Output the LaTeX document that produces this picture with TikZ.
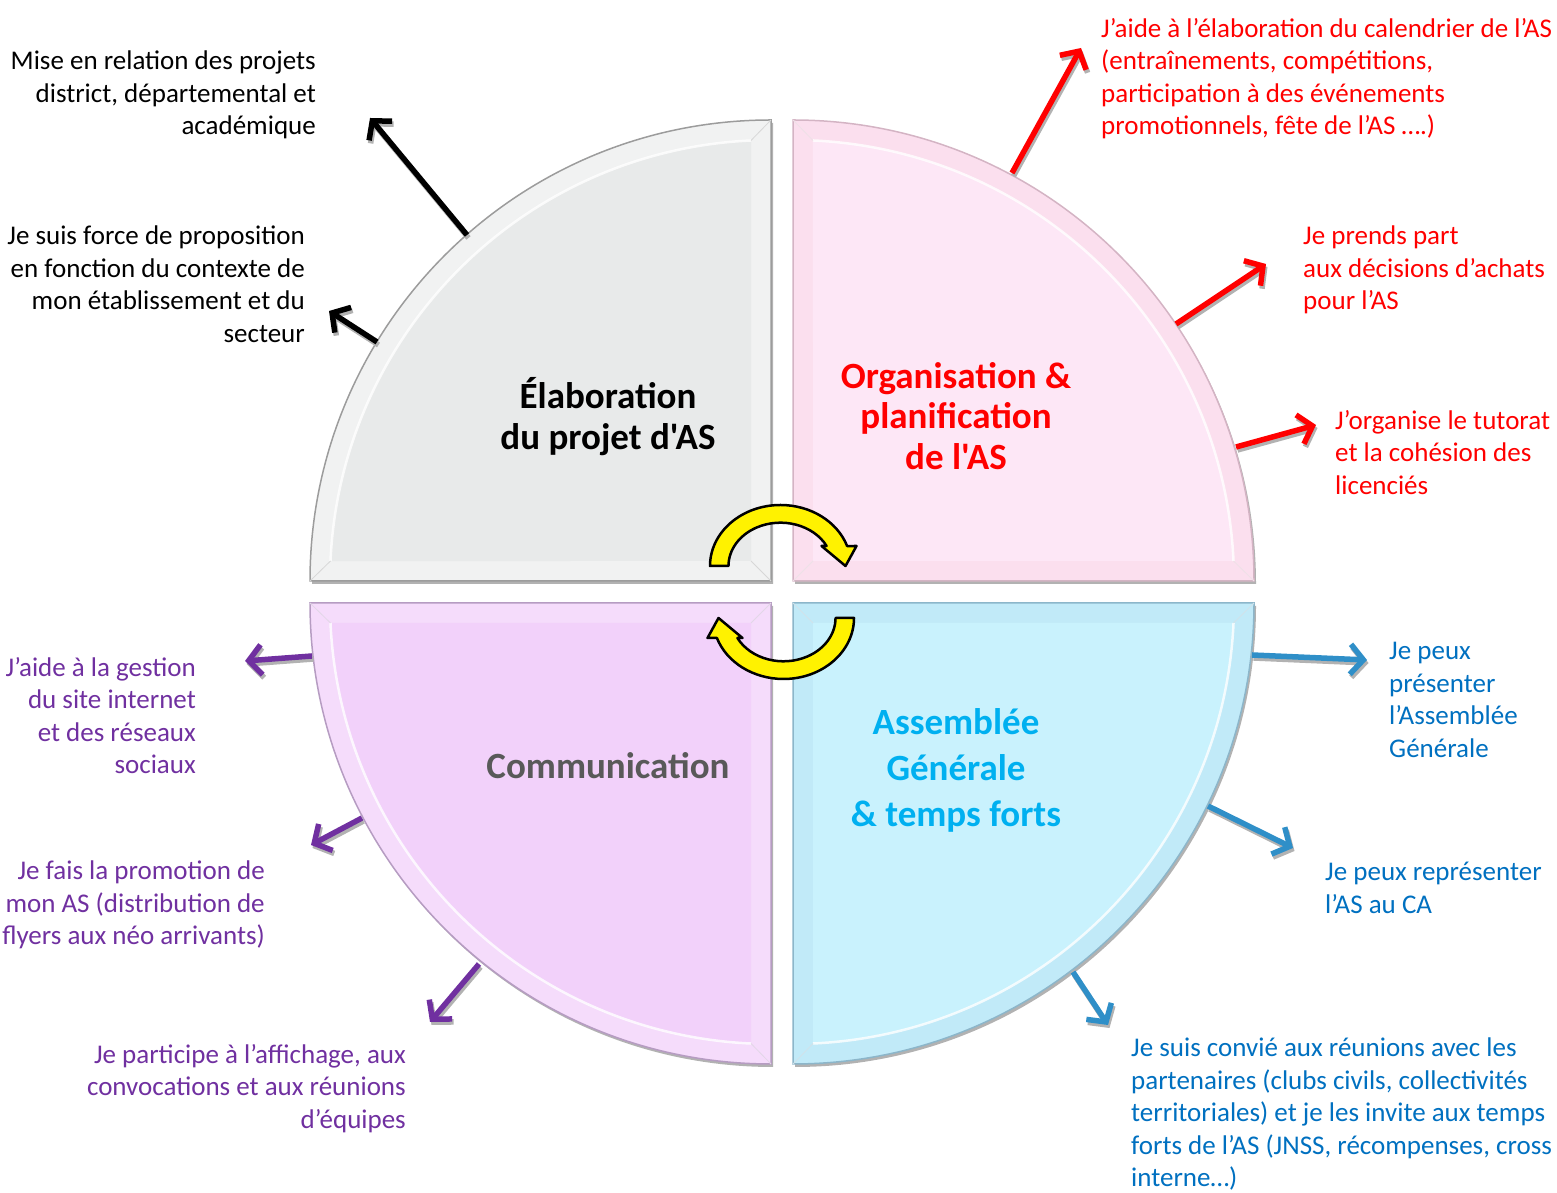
\documentclass[tikz,border=0pt]{standalone}
\usepackage{fontspec}
\newfontfamily\carlito{Carlito}
\usetikzlibrary{arrows.meta}

\definecolor{asred}{HTML}{FF0000}
\definecolor{asblue}{HTML}{0070C0}
\definecolor{aslink}{HTML}{2F8FC8}
\definecolor{aspurple}{HTML}{7030A0}
\definecolor{ascyan}{HTML}{00B0F0}
\definecolor{asgrey}{HTML}{595959}
% quarter colours: fill, bevel, rim
\definecolor{elabfill}{HTML}{E8EAEA} \definecolor{elabbevel}{HTML}{F1F2F2} \definecolor{elabrim}{HTML}{9C9C9C}
\definecolor{orgafill}{HTML}{FDE7F6} \definecolor{orgabevel}{HTML}{FBDFEE} \definecolor{orgarim}{HTML}{D4B4C4}
\definecolor{commfill}{HTML}{F2D1FA} \definecolor{commbevel}{HTML}{F5DCFB} \definecolor{commrim}{HTML}{B69CC2}
\definecolor{agfill}{HTML}{C9F2FD}   \definecolor{agbevel}{HTML}{C1EAF8}   \definecolor{agrim}{HTML}{8CB6CA}

\tikzstyle{note}   = [inner sep=0pt, font=\carlito\fontsize{27}{32.5}\selectfont]
\tikzstyle{noteL}  = [note, anchor=north west, align=left]
\tikzstyle{noteR}  = [note, anchor=north east, align=right]
\tikzstyle{title}  = [inner sep=0pt, align=center,
                      font=\carlito\bfseries\fontsize{37}{41}\selectfont]
\tikzstyle{link}   = [line width=5.5pt, -{Straight Barb[length=13pt,width=30pt]},
                      preaction={draw=black!30, line width=5.5pt,
                        -{Straight Barb[length=13pt,width=30pt]},
                        transform canvas={xshift=1.5pt,yshift=-3pt}}]
\tikzstyle{turn}   = [fill=yellow, draw=black, line width=2.5pt, line join=round]

% quarter disc with bevel: centre x, centre y, rotation, colour prefix
\newcommand{\quarter}[4]{%
  \begin{scope}[shift={(#1,#2)}, rotate=#3]
    \fill[black!30, transform canvas={xshift=2pt,yshift=-3pt}]
      (0,0) -- (461,0) arc[start angle=0, end angle=90, radius=461] -- cycle;
    \filldraw[fill=#4bevel, draw=#4rim, line width=1.5pt]
      (0,0) -- (461,0) arc[start angle=0, end angle=90, radius=461] -- cycle;
    \fill[#4fill] (20,20) -- (440.5,20)
      arc[start angle=2.6, end angle=87.4, radius=441] -- cycle;
    \draw[white, line width=2.5pt, opacity=.8] (440.5,20)
      arc[start angle=2.6, end angle=87.4, radius=441];
    \draw[#4rim!40, line width=.8pt] (0,0) -- (20,20) (461,0) -- (440.5,20)
      (0,461) -- (20,440.5);
  \end{scope}}

% circular arrow around its centre
\newcommand{\turnpath}{(-70.5,0)
  arc[start angle=180, end angle=19.1, x radius=70.5, y radius=61]
  -- (76,20) -- (65,0) -- (41,20) -- (46.1,20)
  arc[start angle=27.5, end angle=180, x radius=52, y radius=43.3] -- cycle}

\begin{document}
\begin{tikzpicture}[x=1pt, y=1pt]
  \useasboundingbox (0,0) rectangle (1557,1193);

  \quarter{771}{612}{90}{elab}
  \quarter{793}{612}{0}{orga}
  \quarter{771}{590}{180}{comm}
  \quarter{793}{590}{270}{ag}

  \begin{scope}[shift={(780.5,627)}]
    \draw[turn] \turnpath;
  \end{scope}
  \begin{scope}[shift={(783.5,575)}, rotate=180]
    \draw[turn] \turnpath;
  \end{scope}

  \node[title] at (608,776) (elab) {Élaboration\\du projet d'AS};
  \node[title, text=asred, font=\carlito\bfseries\fontsize{37}{40.5}\selectfont]
    at (956,777) (orga) {Organisation \&\\planification\\de l'AS};
  \node[title, text=asgrey] at (608,427) (comm) {Communication};
  \node[title, text=ascyan, font=\carlito\bfseries\fontsize{37}{46}\selectfont]
    at (956,423) (ag) {Assemblée\\Générale\\\& temps forts};

  \node[noteR] at (316,1142) (projets)
    {Mise en relation des projets\\district, départemental et\\académique};
  \node[noteR] at (305,967) (proposition)
    {Je suis force de proposition\\en fonction du contexte de\\mon établissement et du\\secteur};

  \node[noteL, text=asred] at (1101,1175) (calendrier)
    {J’aide à l’élaboration du calendrier de l’AS\\(entraînements, compétitions,\\participation à des événements\\promotionnels, fête de l’AS ….)};
  \node[noteL, text=asred] at (1303,967) (achats)
    {Je prends part\\aux décisions d’achats\\pour l’AS};
  \node[noteL, text=asred] at (1335,783) (tutorat)
    {J’organise le tutorat\\et la cohésion des\\licenciés};

  \node[noteL, text=asblue] at (1389,551) (presenter)
    {Je peux\\présenter\\l’Assemblée\\Générale};
  \node[noteL, text=asblue] at (1325,331) (ca)
    {Je peux représenter\\l’AS au CA};
  \node[noteL, text=asblue] at (1131,155) (reunions)
    {Je suis convié aux réunions avec les\\partenaires (clubs civils, collectivités\\territoriales) et je les invite aux temps\\forts de l’AS (JNSS, récompenses, cross\\interne…)};

  \node[noteR, text=aspurple] at (196,536) (site)
    {J’aide à la gestion\\du site internet\\et des réseaux\\sociaux};
  \node[noteR, text=aspurple] at (265,332) (flyers)
    {Je fais la promotion de\\mon AS (distribution de\\flyers aux néo arrivants)};
  \node[noteR, text=aspurple] at (406,149) (affichage)
    {Je participe à l’affichage, aux\\convocations et aux réunions\\d’équipes};

  \coordinate (a1) at (467,958);  \coordinate (b1) at (370,1075);
  \coordinate (a2) at (377,851);  \coordinate (b2) at (329,882);
  \coordinate (a3) at (1012,1020); \coordinate (b3) at (1081,1145);
  \coordinate (a4) at (1176,869); \coordinate (b4) at (1266,929);
  \coordinate (a5) at (1236,746); \coordinate (b5) at (1316,768);
  \coordinate (a6) at (1252,538); \coordinate (b6) at (1367,533);
  \coordinate (a7) at (1208,387); \coordinate (b7) at (1293,345);
  \coordinate (a8) at (1073,221); \coordinate (b8) at (1108,168);
  \coordinate (a9) at (312,537);  \coordinate (b9) at (245,532);
  \coordinate (a10) at (362,375); \coordinate (b10) at (311,348);
  \coordinate (a11) at (479,229); \coordinate (b11) at (430,171);

  \draw[link, black] (a1) -- (b1);
  \draw[link, black] (a2) -- (b2);
  \draw[link, asred] (a3) -- (b3);
  \draw[link, asred] (a4) -- (b4);
  \draw[link, asred] (a5) -- (b5);
  \draw[link, aslink] (a6) -- (b6);
  \draw[link, aslink] (a7) -- (b7);
  \draw[link, aslink] (a8) -- (b8);
  \draw[link, aspurple] (a9) -- (b9);
  \draw[link, aspurple] (a10) -- (b10);
  \draw[link, aspurple] (a11) -- (b11);
\end{tikzpicture}
\end{document}
